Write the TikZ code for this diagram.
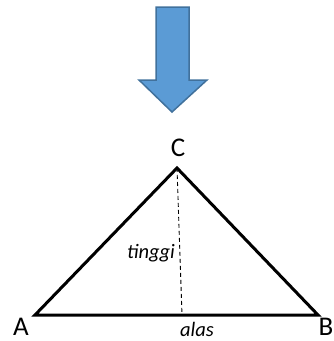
\documentclass[tikz,border=0pt]{standalone}
\usepackage{fontspec}
\setmainfont{Carlito}
\definecolor{arrowfill}{HTML}{5B9BD5}
\definecolor{arrowedge}{HTML}{41719C}
\begin{document}
\begin{tikzpicture}[x=1pt,y=-1pt,
  bigarrow/.style={fill=arrowfill,draw=arrowedge,line width=1.5pt,line join=miter},
  side/.style={draw=black,line width=3pt,line join=miter,line cap=butt},
  height/.style={draw=black,line width=0.9pt,dash pattern=on 4pt off 3pt},
  vlabel/.style={font=\fontsize{27}{29}\selectfont,inner sep=0pt},
  slabel/.style={font=\fontsize{20.5}{22}\selectfont\itshape,inner sep=0pt}]
\useasboundingbox (0,0) rectangle (334,341);
% down arrow
\path[bigarrow] (156,7) -- (189,7) -- (189,80) -- (207,80) -- (172,112) -- (139,80) -- (156,80) -- cycle;
% vertices
\coordinate (A) at (35,315);
\coordinate (B) at (318,315);
\coordinate (C) at (177,168);
\coordinate (H) at (182,315);
\draw[side] (A) -- (B) -- (C) -- cycle;
\draw[height] (C) -- (H);
% labels
\node[vlabel] (lC) at (178,148) {C};
\node[vlabel] (lA) at (21,327) {A};
\node[vlabel] (lB) at (326,327) {B};
\node[slabel] (lt) at (151,253) {tinggi};
\node[slabel] (la) at (197,329) {alas};
\end{tikzpicture}
\end{document}
